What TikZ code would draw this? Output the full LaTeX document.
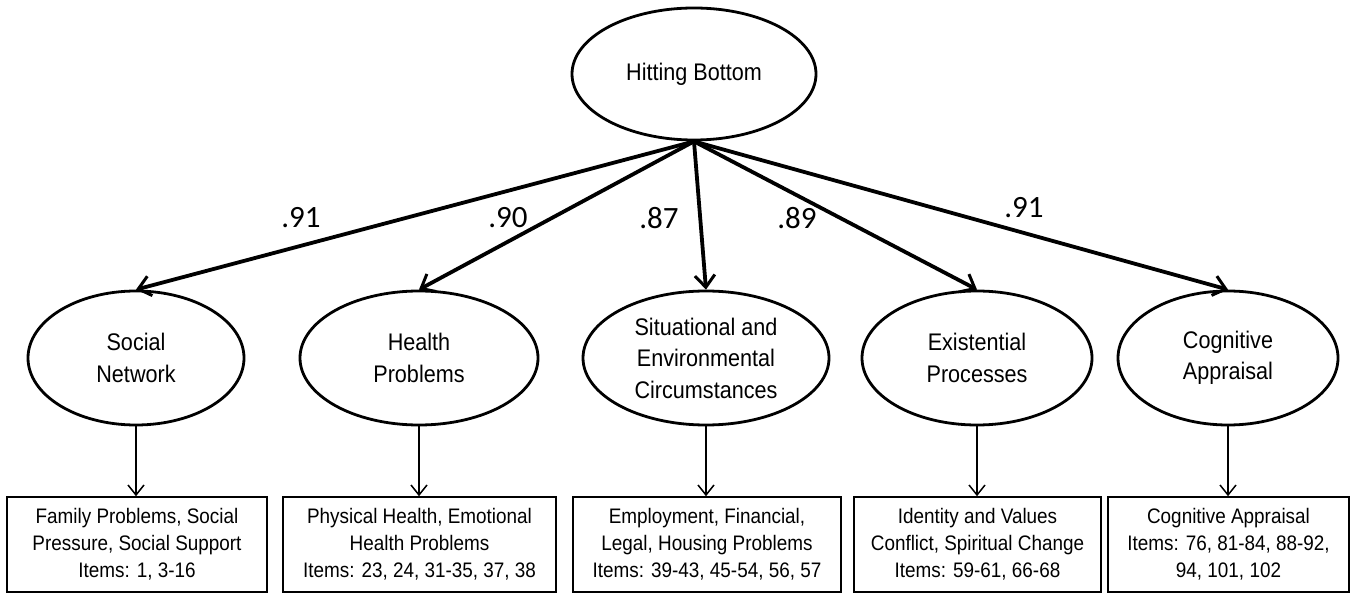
\documentclass[tikz,border=0pt]{standalone}
\usepackage{fontspec}
\setmainfont{Liberation Sans}[FakeStretch=0.9]
\newfontfamily\coeffont{Carlito}
\usetikzlibrary{shapes.geometric,arrows.meta}
\begin{document}
\begin{tikzpicture}[x=1pt,y=-1pt,
  latent/.style={ellipse,draw,line width=2.8pt,inner sep=0pt,align=center,
    font=\fontsize{24}{31.5}\selectfont},
  itembox/.style={rectangle,draw,line width=1.6pt,inner sep=0pt,align=center,
    minimum height=95pt,font=\fontsize{21}{27}\selectfont},
  loading/.style={-{Straight Barb[length=12pt,width=20pt,line width=3pt]},line width=3.8pt},
  indicator/.style={-{Straight Barb[length=10pt,width=16pt,line width=1.5pt]},line width=1.5pt},
  coef/.style={font=\coeffont\fontsize{31}{34}\selectfont,inner sep=0pt}]
\useasboundingbox (0,0) rectangle (1357,593);
\node[latent,minimum width=244pt,minimum height=132pt] (hb) at (694,74) {Hitting Bottom};
\node[latent,minimum width=216pt,minimum height=134pt] (sn) at (136,358) {Social\\Network};
\node[latent,minimum width=238pt,minimum height=134pt] (hp) at (419,358) {Health\\Problems};
\node[latent,minimum width=246pt,minimum height=134pt] (se) at (706,358) {Situational and\\Environmental\\Circumstances};
\node[latent,minimum width=230pt,minimum height=134pt] (ep) at (977,358) {Existential\\Processes};
\node[latent,minimum width=220pt,minimum height=134pt] (ca) at (1228,358) {Cognitive\\Appraisal};

\node[itembox,minimum width=260pt] (b1) at (137,544.5) {Family Problems, Social\\Pressure, Social Support\\Items: 1, 3-16};
\node[itembox,minimum width=273pt] (b2) at (419.5,544.5) {Physical Health, Emotional\\Health Problems\\Items: 23, 24, 31-35, 37, 38};
\node[itembox,minimum width=268pt] (b3) at (707,544.5) {Employment, Financial,\\Legal, Housing Problems\\Items: 39-43, 45-54, 56, 57};
\node[itembox,minimum width=247pt] (b4) at (977.5,544.5) {Identity and Values\\Conflict, Spiritual Change\\Items: 59-61, 66-68};
\node[itembox,minimum width=241pt] (b5) at (1228.5,544.5) {Cognitive Appraisal\\Items: 76, 81-84, 88-92,\\94, 101, 102};

\draw[loading] (hb.south) -- (sn.north);
\draw[loading] (hb.south) -- (hp.north);
\draw[loading] (hb.south) -- (se.north);
\draw[loading] (hb.south) -- (ep.north);
\draw[loading] (hb.south) -- (ca.north);

\node[coef] (c1) at (301,218) {.91};
\node[coef] (c2) at (508,218) {.90};
\node[coef] (c3) at (659,218) {.87};
\node[coef] (c4) at (797,218) {.89};
\node[coef] (c5) at (1024,208) {.91};

\draw[indicator] (sn.south) -- (b1.north -| sn.south);
\draw[indicator] (hp.south) -- (b2.north -| hp.south);
\draw[indicator] (se.south) -- (b3.north -| se.south);
\draw[indicator] (ep.south) -- (b4.north -| ep.south);
\draw[indicator] (ca.south) -- (b5.north -| ca.south);
\end{tikzpicture}
\end{document}
